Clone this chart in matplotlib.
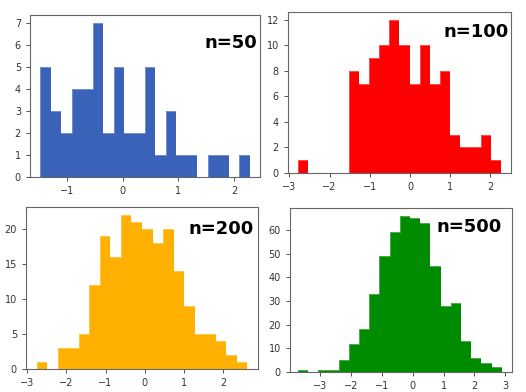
""" four histograms of normal samples """
import matplotlib
matplotlib.use('Agg')
import matplotlib.pyplot as plt
from matplotlib.ticker import MultipleLocator
import numpy as np

# bin range (first left edge, last right edge) and counts of 20 bins
labels = ['n=50', 'n=100', 'n=200', 'n=500']
colors = ['#3962b8', '#ff0000', '#ffb000', '#008c00']
ranges = [(-1.48, 2.28), (-2.78, 2.26), (-2.76, 2.62), (-3.73, 2.89)]
counts_50 = [5, 3, 2, 4, 4, 7, 2, 5, 2, 2, 5, 1, 3, 1, 1, 0, 1, 1, 0, 1]
counts_100 = [1, 0, 0, 0, 0, 8, 7, 9, 10, 12, 10, 7, 10, 7, 8, 3, 2, 2, 3, 1]
counts_200 = [1, 0, 3, 3, 5, 12, 19, 16, 22, 21, 20, 18, 20, 14, 9, 5, 5, 4, 2, 1]
counts_500 = [1, 0, 1, 1, 5, 12, 18, 33, 49, 59, 66, 65, 63, 45, 28, 29, 13, 6, 4, 2]
all_counts = [counts_50, counts_100, counts_200, counts_500]

# axes boxes in pixels: left, right, top, bottom
W, H = 526, 392
boxes = [(30, 260, 15, 177), (288, 511, 12, 173),
         (26, 258, 207, 369), (290, 512, 208, 372)]
text_pos = [(0.99, 0.83), (0.99, 0.877), (0.983, 0.864), (0.956, 0.883)]


def draw_hist(ax, lo, hi, counts, color):
    """ draw one histogram from bin counts """
    edges = np.linspace(lo, hi, len(counts) + 1)
    ax.bar(edges[:-1], counts, width=np.diff(edges), align='edge',
           color=color, linewidth=0)
    # faint light outline like the reference
    ax.stairs(counts, edges, color='white', alpha=0.3, linewidth=0.7)


fig = plt.figure(figsize=(W / 100, H / 100), dpi=100)
for i in range(4):
    l, r, t, b = boxes[i]
    ax = fig.add_axes([l / W, (H - b) / H, (r - l) / W, (b - t) / H])
    draw_hist(ax, ranges[i][0], ranges[i][1], all_counts[i], colors[i])
    ax.tick_params(labelsize=7, length=3, width=0.6, colors='#333333')
    for s in ax.spines.values():
        s.set_color('#666666')
        s.set_linewidth(0.8)
    if i == 3:
        ax.xaxis.set_major_locator(MultipleLocator(1))
        ax.set_xlim(-3.98, 3.22)
    tx, ty = text_pos[i]
    ax.text(tx, ty, labels[i], transform=ax.transAxes, ha='right', va='center',
            fontsize=13, fontweight='bold')

fig.savefig('out.png', dpi=100)
